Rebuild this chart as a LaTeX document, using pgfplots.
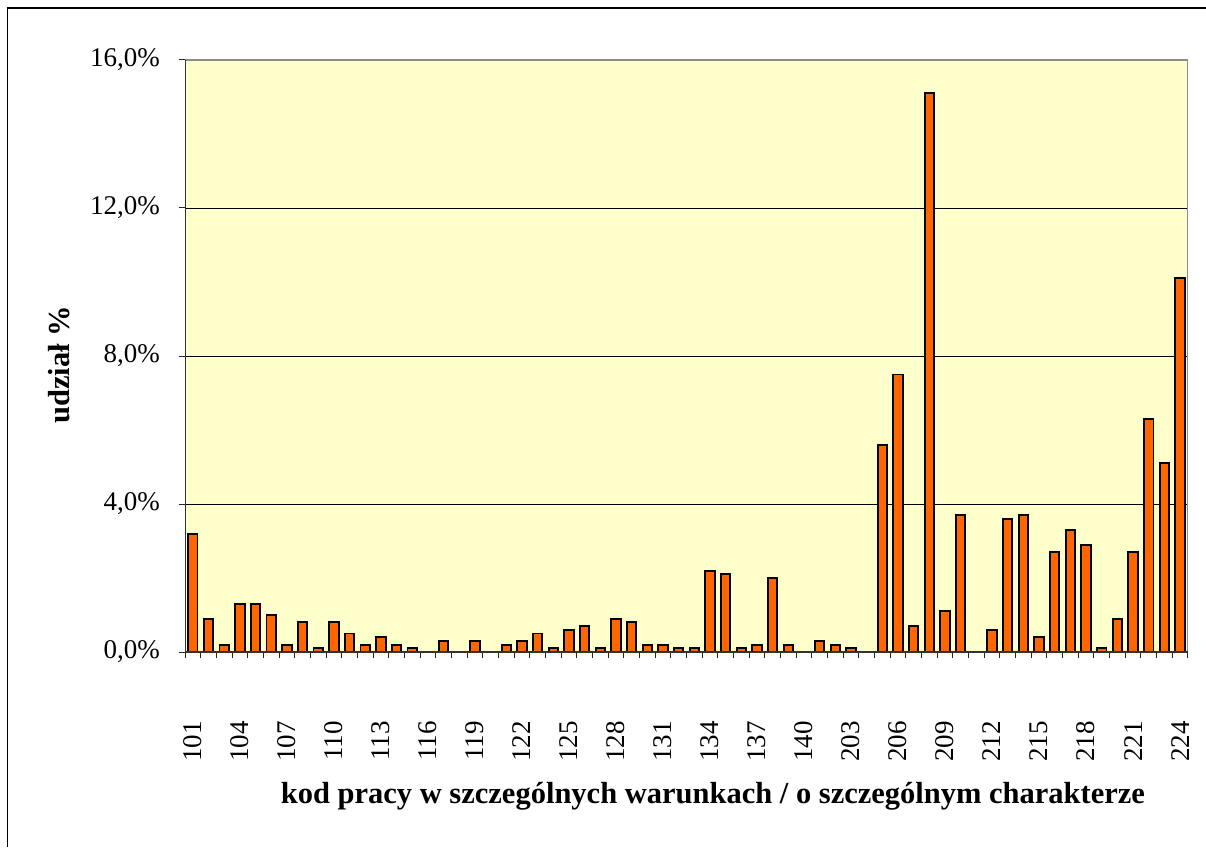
\documentclass[border=0pt]{standalone}
\usepackage{fontspec}
\setmainfont{Liberation Serif}
\usepackage{pgfplots}
\pgfplotsset{compat=1.18}
\definecolor{barorange}{HTML}{FF6600}
\definecolor{plotbg}{HTML}{FFFFCC}
\definecolor{frameg}{HTML}{8C8C8C}
\newcommand\tickfont{\fontsize{27}{32}\selectfont}
\newcommand\titlefont{\fontsize{30.5}{36}\selectfont\bfseries}
\begin{document}
\begin{tikzpicture}
\useasboundingbox (0,0) rectangle (1206pt,847pt);
\fill[white] (0,0) rectangle (1206pt,847pt);
\draw[black, line width=1.3pt] (7.5pt,0) -- (7.5pt,839pt) -- (1206pt,839pt);
\begin{axis}[
  at={(185pt,195pt)}, anchor=south west,
  width=1003pt, height=592pt, scale only axis,
  xmin=-0.5, xmax=63.5, ymin=0, ymax=16,
  axis line style={draw=none},
  axis background/.style={fill=plotbg},
  ytick={0,4,8,12,16},
  yticklabels={{0,0\%},{4,0\%},{8,0\%},{12,0\%},{16,0\%}},
  xtick={0,3,...,63},
  xticklabels={101,104,107,110,113,116,119,122,125,128,131,134,137,140,203,206,209,212,215,218,221,224},
  minor xtick={-0.5,0.5,...,63.5},
  major x tick style={draw=none},
  minor x tick style={draw=black!85, line width=1pt},
  major y tick style={draw=black!85, line width=1pt},
  major tick length=6pt, minor tick length=6pt,
  tick align=outside, tick pos=left,
  ymajorgrids=true,
  grid style={black, line width=0.9pt},
  /pgf/number format/assume math mode=true,
  yticklabel style={font=\tickfont, inner sep=0pt, xshift=-19pt},
  xticklabel style={font=\tickfont, rotate=90, anchor=east, inner sep=0pt},
  xticklabel shift=63pt,
  xlabel={kod pracy w szczególnych warunkach / o szczególnym charakterze},
  ylabel={udział \%},
  xlabel style={font=\titlefont, at={(axis description cs:0.5264,-0.2432)}, anchor=center},
  ylabel style={font=\titlefont, at={(axis description cs:-0.1256,0.485)}, anchor=center, rotate=0},
  ybar, bar width=9.4pt,
]
\addplot[fill=barorange, draw=black, line width=1.9pt, bar shift=0pt] coordinates {
(0,3.2) (1,0.9) (2,0.2) (3,1.3) (4,1.3) (5,1.0) (6,0.2) (7,0.8) (8,0.1) (9,0.8)
(10,0.5) (11,0.2) (12,0.4) (13,0.2) (14,0.1) (16,0.3) (18,0.3)
(20,0.2) (21,0.3) (22,0.5) (23,0.1) (24,0.6) (25,0.7) (26,0.1) (27,0.9) (28,0.8) (29,0.2)
(30,0.2) (31,0.1) (32,0.1) (33,2.2) (34,2.1) (35,0.1) (36,0.2) (37,2.0) (38,0.2)
(40,0.3) (41,0.2) (42,0.1) (44,5.6) (45,7.5) (46,0.7) (47,15.1) (48,1.1) (49,3.7)
(51,0.6) (52,3.6) (53,3.7) (54,0.4) (55,2.7) (56,3.3) (57,2.9) (58,0.1) (59,0.9)
(60,2.7) (61,6.3) (62,5.1) (63,10.1)
};
\draw[frameg, line width=1.6pt] (rel axis cs:0,1) -- (rel axis cs:1,1) -- (rel axis cs:1,0);
\draw[black!80, line width=1.3pt] (rel axis cs:0,1) -- (rel axis cs:0,0) -- (rel axis cs:1,0);
\end{axis}
\end{tikzpicture}
\end{document}
